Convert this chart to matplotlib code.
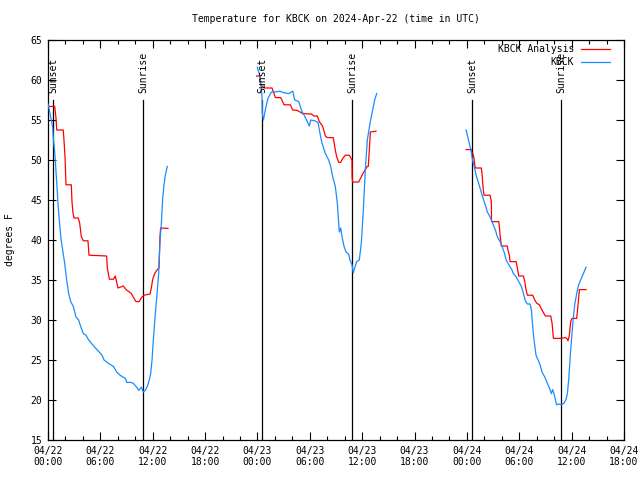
import matplotlib
matplotlib.use("Agg")
import matplotlib.pyplot as plt
import numpy as np

# ---------------- data (hours since 2024-04-22 00:00 UTC, degrees F) ----------------
analysis_hours_1 = [0.08, 0.77, 0.92, 1.0, 1.75, 1.83, 1.95, 2.06, 2.67, 2.75, 2.86, 2.98, 3.47, 3.63, 3.82, 4.05,
                    4.58, 4.7, 6.72, 6.8, 7.03, 7.5, 7.71, 8.02, 8.63, 8.94, 9.2, 9.55, 9.85, 10.08, 10.46, 10.7,
                    11.0, 11.69, 11.84, 12.0, 12.22, 12.53, 12.72, 12.83, 12.91, 13.75]
analysis_temps_1 = [56.7, 56.7, 55.2, 53.75, 53.75, 52.5, 50.4, 46.9, 46.9, 44.75, 43.4, 42.75, 42.75, 42.1, 40.4, 39.9,
                    39.9, 38.1, 38.0, 36.5, 35.1, 35.1, 35.5, 34.0, 34.25, 33.8, 33.6, 33.3, 32.7, 32.3, 32.3, 32.8,
                    33.1, 33.25, 34.0, 35.1, 35.8, 36.3, 36.5, 40.4, 41.5, 41.45]

obs_hours_1 = [0.0, 0.15, 0.3, 0.46, 0.54, 0.61, 0.77, 0.92, 1.07, 1.15, 1.37, 1.53, 1.68, 1.91, 2.14, 2.37, 2.6,
               2.9, 3.2, 3.51, 3.74, 4.05, 4.35, 4.66, 5.12, 5.65, 6.19, 6.42, 7.03, 7.49, 7.87, 8.25, 8.86, 9.02,
               9.55, 9.85, 10.16, 10.39, 10.7, 10.92, 11.15, 11.38, 11.61, 11.76, 11.92, 12.07, 12.3, 12.53,
               12.68, 12.83, 12.98, 13.14, 13.29, 13.44, 13.67]
obs_temps_1 = [57.0, 56.25, 55.4, 54.6, 54.0, 52.7, 51.0, 48.5, 46.0, 44.4, 41.5, 39.8, 38.75, 37.1, 35.0, 33.3, 32.3,
               31.7, 30.4, 30.0, 29.2, 28.3, 28.1, 27.5, 26.9, 26.25, 25.6, 25.0, 24.5, 24.2, 23.5, 23.1, 22.7, 22.2,
               22.2, 22.0, 21.6, 21.2, 21.6, 21.0, 21.2, 21.7, 22.5, 23.3, 25.0, 27.5, 30.8, 33.75,
               35.8, 39.8, 41.9, 45.2, 46.9, 48.1, 49.2]

analysis_hours_2 = [23.9, 24.3, 24.37, 24.83, 25.67, 25.9, 26.05, 26.66, 26.97, 27.04, 27.77, 28.04, 28.57, 29.18,
                    30.17, 30.48, 30.86, 31.09, 31.48, 31.78, 32.01, 32.69, 32.92, 33.08, 33.31, 33.54, 33.77,
                    34.07, 34.53, 34.83, 34.85, 34.91, 35.6, 35.9, 36.13, 36.36, 36.59, 36.7, 36.82, 36.94, 37.58]
analysis_temps_2 = [60.5, 60.5, 59.4, 59.0, 59.0, 58.3, 57.8, 57.8, 57.1, 56.9, 56.9, 56.25, 56.2, 55.8,
                    55.75, 55.5, 55.5, 54.8, 54.2, 53.0, 52.8, 52.8, 51.25, 50.4, 49.7, 49.7, 50.2,
                    50.6, 50.6, 50.0, 47.7, 47.25, 47.25, 47.9, 48.4, 48.8, 49.2, 49.2, 51.25, 53.5, 53.6]

obs_hours_2 = [23.98, 24.3, 24.53, 24.55, 24.68, 24.9, 25.2, 25.6, 25.97, 26.58, 27.04, 27.58, 28.04, 28.27, 28.73,
               29.03, 29.49, 29.95, 30.1, 30.56, 30.94, 31.17, 31.4, 31.78, 32.16, 32.39, 32.62, 32.92, 33.15,
               33.31, 33.38, 33.54, 33.69, 33.92, 34.15, 34.45, 34.6, 34.83, 34.98, 35.14, 35.37, 35.67, 35.9,
               36.13, 36.36, 36.59, 36.9, 37.2, 37.43, 37.66]
obs_temps_2 = [61.6, 60.4, 57.9, 55.9, 55.0, 56.25, 57.7, 58.5, 58.5, 58.6, 58.4, 58.3, 58.6, 57.5, 57.3,
               56.25, 55.3, 54.25, 55.0, 54.9, 54.7, 53.3, 52.1, 50.8, 50.0, 49.2, 47.9, 46.7, 44.6,
               42.1, 41.0, 41.5, 40.4, 39.2, 38.5, 38.25, 37.5, 36.9, 35.9, 36.5, 37.3, 37.5, 39.6,
               43.75, 48.75, 52.5, 54.6, 56.25, 57.5, 58.3]

analysis_hours_3 = [47.9, 48.5, 48.58, 48.7, 48.81, 48.88, 48.96, 49.65, 49.73, 49.8, 49.88, 49.96, 50.65, 50.8,
                    50.82, 51.65, 51.72, 51.8, 51.88, 51.95, 52.64, 52.7, 52.86, 52.94, 53.63, 53.78, 53.94,
                    54.48, 54.63, 54.78, 54.93, 55.54, 55.77, 56.0, 56.3, 56.6, 56.99, 57.6, 57.76, 57.91,
                    58.75, 59.28, 59.45, 59.58, 59.73, 59.89, 60.04, 60.58, 60.73, 60.89, 61.65]
analysis_temps_3 = [51.3, 51.3, 50.8, 50.8, 50.2, 49.6, 49.0, 49.0, 48.3, 47.3, 46.25, 45.6, 45.6, 44.8,
                    42.3, 42.3, 41.7, 40.6, 39.9, 39.25, 39.25, 38.75, 38.1, 37.3, 37.3, 36.5, 35.5,
                    35.5, 34.8, 33.75, 33.1, 33.1, 32.5, 32.1, 31.9, 31.25, 30.5, 30.5, 29.6, 27.7,
                    27.7, 27.8, 27.7, 27.4, 28.0, 29.8, 30.2, 30.2, 31.9, 33.8, 33.8]

obs_hours_3 = [47.9, 48.05, 48.2, 48.35, 48.5, 48.58, 48.73, 48.88, 49.1, 49.34, 49.57, 49.8, 50.1, 50.34,
               50.65, 50.95, 51.26, 51.49, 51.8, 52.03, 52.26, 52.5, 52.8, 53.17, 53.32, 53.63, 53.94, 54.24,
               54.48, 54.7, 54.93, 55.24, 55.39, 55.54, 55.69, 55.92, 56.15, 56.38, 56.6, 56.91, 57.22,
               57.45, 57.68, 57.83, 57.98, 58.14, 58.29, 58.52, 58.82, 59.13, 59.36, 59.51, 59.66, 59.89,
               60.12, 60.35, 60.58, 60.8, 61.11, 61.42, 61.65]
obs_temps_3 = [53.75, 53.1, 52.4, 51.7, 51.0, 50.4, 49.6, 49.0, 47.9, 47.1, 46.25, 45.4, 44.4, 43.5,
               42.9, 42.1, 41.25, 40.4, 39.8, 39.2, 38.5, 37.5, 36.9, 36.25, 35.8, 35.4, 34.8, 34.2,
               33.3, 32.4, 32.0, 32.0, 31.25, 29.2, 27.5, 25.6, 25.0, 24.4, 23.5, 22.9, 22.1,
               21.5, 20.8, 21.3, 20.8, 20.0, 19.4, 19.5, 19.4, 19.6, 20.1, 20.8, 22.5, 26.25,
               29.4, 31.9, 33.3, 34.4, 35.2, 36.0, 36.6]

sun_event_hours = [0.61, 10.92, 24.56, 34.87, 48.62, 58.82]
sun_event_labels = ["Sunset", "Sunrise", "Sunset", "Sunrise", "Sunset", "Sunrise"]

xtick_hours = [0, 6, 12, 18, 24, 30, 36, 42, 48, 54, 60, 66]
xtick_labels = ["04/22\n00:00", "04/22\n06:00", "04/22\n12:00", "04/22\n18:00",
                "04/23\n00:00", "04/23\n06:00", "04/23\n12:00", "04/23\n18:00",
                "04/24\n00:00", "04/24\n06:00", "04/24\n12:00", "04/24\n18:00"]
ytick_values = [15, 20, 25, 30, 35, 40, 45, 50, 55, 60, 65]

title_text = "Temperature for KBCK on 2024-Apr-22 (time in UTC)"
ylabel_text = "degrees F"
series_names = ["KBCK Analysis", "KBCK"]
series_colors = ["#ff0000", "#1a8cff"]

# ---------------- plot ----------------
plt.rcParams['font.family'] = ['DejaVu Sans Mono']
FS = 7

fig = plt.figure(figsize=(6.4, 4.8), dpi=100)
ax = fig.add_axes([48/640, 1-440/480, 576/640, 400/480])
ax.set_xlim(0, 66)
ax.set_ylim(15, 65)

for h, t in [(analysis_hours_1, analysis_temps_1), (analysis_hours_2, analysis_temps_2),
             (analysis_hours_3, analysis_temps_3)]:
    ax.plot(h, t, color=series_colors[0], lw=0.9, zorder=3)
for h, t in [(obs_hours_1, obs_temps_1), (obs_hours_2, obs_temps_2), (obs_hours_3, obs_temps_3)]:
    ax.plot(h, t, color=series_colors[1], lw=0.9, zorder=3)

for xh, lab in zip(sun_event_hours, sun_event_labels):
    ax.plot([xh, xh], [15, 57.5], color='black', lw=0.9, zorder=2)
    ax.text(xh + 0.05, 58.4, lab, rotation=90, ha='center', va='bottom', fontsize=FS)

ax.set_xticks(xtick_hours)
ax.set_xticklabels(xtick_labels, fontsize=FS)
ax.set_xticks(np.arange(0, 67, 2), minor=True)
ax.set_yticks(ytick_values)
ax.set_yticklabels([str(v) for v in ytick_values], fontsize=FS)
ax.tick_params(which='major', direction='in', length=6, width=0.8, top=True, right=True, pad=4)
ax.tick_params(which='minor', direction='in', length=3, width=0.8, top=True, right=True)
for s in ax.spines.values():
    s.set_linewidth(0.9)

fig.text(336/640, 1-19/480, title_text, ha='center', va='center', fontsize=FS)
fig.text(10/640, 0.5, ylabel_text, rotation=90, ha='center', va='center', fontsize=FS)

# legend (gnuplot style, top right inside)
for i, (name, col) in enumerate(zip(series_names, series_colors)):
    ypx = 49 + i * 13
    fig.text(574/640, 1-ypx/480, name, ha='right', va='center', fontsize=FS)
    fig.add_artist(plt.Line2D([581/640, 610/640], [1-ypx/480, 1-ypx/480], color=col, lw=0.9))

fig.savefig("out.png", dpi=100)
